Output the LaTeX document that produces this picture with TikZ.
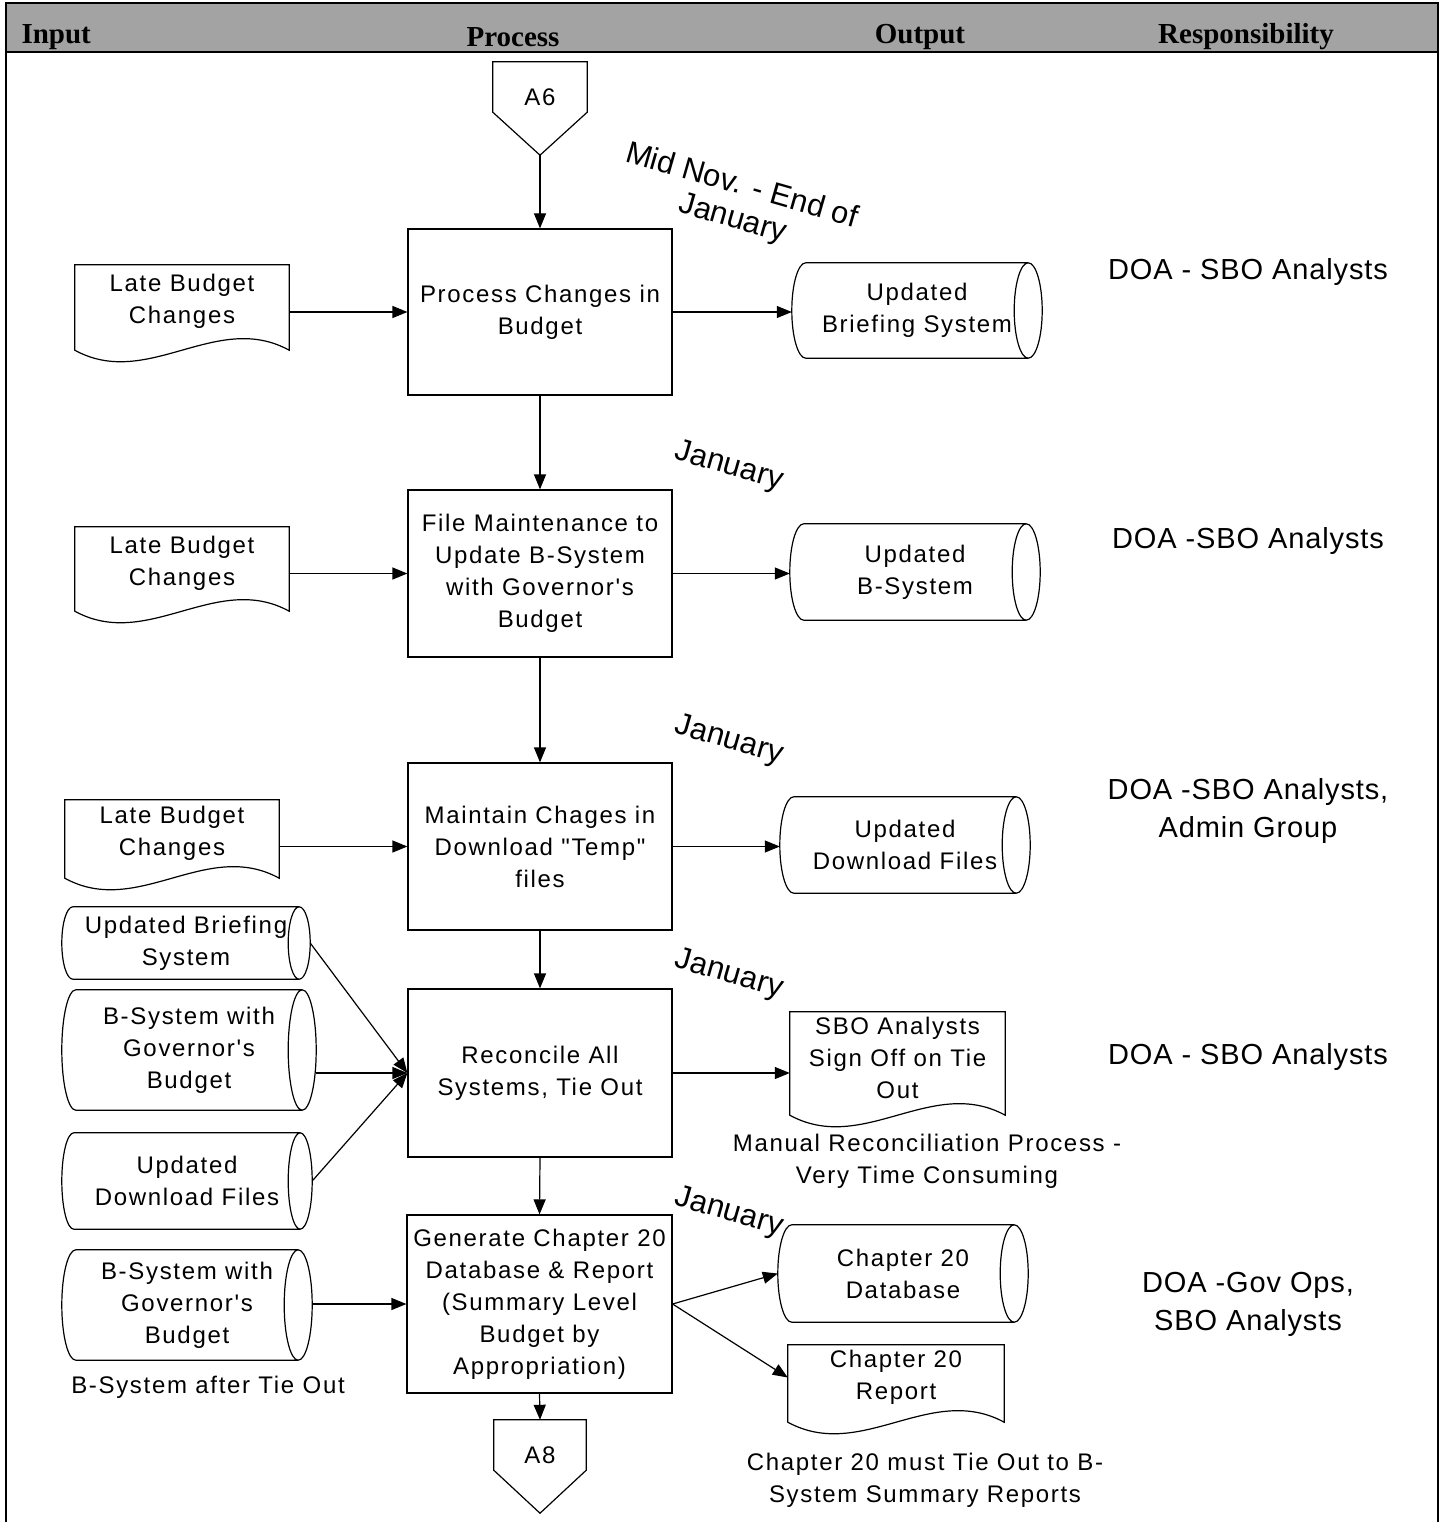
\documentclass[tikz,border=0pt]{standalone}
\usepackage{fontspec}
\setmainfont{Liberation Sans}
\newfontfamily\boxfont{Liberation Sans}[LetterSpace=7]
\newfontfamily\respfont{Liberation Sans}[LetterSpace=3]
\newfontfamily\datefont{Liberation Sans}
\newfontfamily\headfont{Liberation Serif}
\usetikzlibrary{arrows.meta,calc}

\tikzset{
  shapeline/.style={draw=black, line width=1.2pt},
  framerule/.style={draw=black, line width=2.6pt},
  boxtext/.style={align=center, inner sep=0pt, font=\boxfont\fontsize{24}{32}\selectfont},
  procbox/.style={boxtext, shapeline, minimum width=264pt, minimum height=#1},
  holder/.style n args={2}{boxtext, minimum width=#1, minimum height=#2},
  flow/.style={draw=black, line width=1.2pt, -{Triangle[length=15pt,width=12pt]}},
  resptext/.style={align=center, font=\respfont\fontsize{29}{38}\selectfont},
  datetext/.style={align=center, rotate=-16, font=\datefont\fontsize{31}{34}\selectfont},
  notetext/.style={align=center, font=\boxfont\fontsize{24}{32}\selectfont},
  headtext/.style={font=\headfont\bfseries\fontsize{29}{32}\selectfont},
}

% stored-data cylinder drawn round a node: #1 node, #2 end-cap radius (pt)
\newcommand\cylshape[2]{%
  \draw[shapeline] let \p1=(#1.north west), \p2=(#1.south east), \n1={(\y1-\y2)/2} in
    (\x1+#2pt,\y1) -- (\x2-#2pt,\y1)
    arc[start angle=90, end angle=-90, x radius=#2pt, y radius={\n1*1pt}]
    -- (\x1+#2pt,\y2)
    arc[start angle=270, end angle=90, x radius=#2pt, y radius={\n1*1pt}] -- cycle
    (\x2-#2pt,\y1) arc[start angle=90, end angle=270, x radius=#2pt, y radius={\n1*1pt}];}

% document shape with a wavy lower edge drawn round a node
\newcommand\docshape[1]{%
  \draw[shapeline] let \p1=(#1.north west), \p2=(#1.south east), \n1={\x2-\x1} in
    (\x1,\y2-12pt) -- (\x1,\y1) -- (\x2,\y1) -- (\x2,\y2-12pt)
    .. controls (\x1+0.66*\n1,\y2+28pt) and (\x1+0.34*\n1,\y2-52pt) .. (\x1,\y2-12pt) -- cycle;}

% off-page reference pointing down
\newcommand\offpage[1]{%
  \draw[shapeline] let \p1=(#1.north west), \p2=(#1.south east) in
    (\x1,\y1) -- (\x2,\y1) -- (\x2,{\y1-0.54*(\y1-\y2)})
    -- ({(\x1+\x2)/2},\y2) -- (\x1,{\y1-0.54*(\y1-\y2)}) -- cycle;}

\begin{document}
\begin{tikzpicture}[x=1pt, y=-1pt]
\useasboundingbox (0,0) rectangle (1443,1522);

% header band and frame
\fill[black!36] (6,3) rectangle (1438,52);
\draw[framerule] (6,1522) -- (6,3) -- (1438,3) -- (1438,1522);
\draw[framerule] (6,52) -- (1438,52);
\node[headtext, anchor=west] (hin) at (18,37) {Input};
\node[headtext] (hproc) at (513,37) {Process};
\node[headtext] (hout) at (920,37) {Output};
\node[headtext] (hresp) at (1246,37) {Responsibility};

% off-page references
\node[holder={94pt}{93pt}] (a6) at (540,108.5) {};
\offpage{a6}
\node[boxtext] (a6t) at (540,97) {A6};
\node[holder={92pt}{93pt}] (a8) at (540,1466.5) {};
\offpage{a8}
\node[boxtext] (a8t) at (540,1455) {A8};

% process steps
\node[procbox=166pt] (b1) at (540,312) {Process Changes in\\Budget};
\node[procbox=167pt] (b2) at (540,573.5) {File Maintenance to\\Update B-System\\with Governor's\\Budget};
\node[procbox=167pt] (b3) at (540,846.5) {Maintain Chages in\\Download "Temp"\\files};
\node[procbox=168pt] (b4) at (540,1073) {Reconcile All\\Systems, Tie Out};
\node[procbox=178pt, minimum width=265pt] (b5) at (539.5,1304) {Generate Chapter 20\\Database \& Report\\(Summary Level\\Budget by\\Appropriation)};

% input documents
\node[holder={214pt}{73pt}] (d1) at (182,301.5) {Late Budget\\Changes};
\docshape{d1}
\node[holder={214pt}{72pt}] (d2) at (182,563) {Late Budget\\Changes};
\docshape{d2}
\node[holder={214pt}{66pt}] (d3) at (172,833) {Late Budget\\Changes};
\docshape{d3}

% input data stores
\node[holder={248pt}{72pt}] (c4a) at (186,943) {Updated Briefing\\System};
\cylshape{c4a}{11}
\node[holder={254pt}{120pt}] (c4b) at (189,1050) {B-System with\\Governor's\\Budget};
\cylshape{c4b}{14}
\node[holder={250pt}{96pt}] (c4c) at (187,1181) {Updated\\Download Files};
\cylshape{c4c}{12}
\node[holder={250pt}{110pt}] (c5) at (187,1305) {B-System with\\Governor's\\Budget};
\cylshape{c5}{14}
\node[notetext] (n5b) at (208,1387) {B-System after Tie Out};

% outputs
\node[holder={250pt}{95pt}] (o1) at (917,310.5) {Updated\\Briefing System};
\cylshape{o1}{14}
\node[holder={250pt}{96pt}] (o2) at (915,572) {Updated\\B-System};
\cylshape{o2}{14}
\node[holder={250pt}{96pt}] (o3) at (905,845) {Updated\\Download Files};
\cylshape{o3}{14}
\node[holder={215pt}{91pt}] (o4) at (897.5,1057.5) {SBO Analysts\\Sign Off on Tie\\Out};
\docshape{o4}
\node[notetext] (n4) at (927,1161) {Manual Reconciliation Process -\\Very Time Consuming};
\node[holder={250pt}{97pt}] (o5a) at (903,1273.5) {Chapter 20\\Database};
\cylshape{o5a}{14}
\node[holder={216pt}{65pt}] (o5b) at (896,1377.5) {Chapter 20\\Report};
\docshape{o5b}
\node[notetext] (n5) at (925,1480) {Chapter 20 must Tie Out to B-\\System Summary Reports};

% timing
\node[datetext] (t1) at (737,203) {Mid Nov. - End of\\January};
\node[datetext] (t2) at (729,467) {January};
\node[datetext] (t3) at (729,741) {January};
\node[datetext] (t4) at (729,975) {January};
\node[datetext] (t5) at (729,1213) {January};

% responsibility
\node[resptext] (r1) at (1248,272) {DOA - SBO Analysts};
\node[resptext] (r2) at (1248,541) {DOA -SBO Analysts};
\node[resptext] (r3) at (1248,811) {DOA -SBO Analysts,\\Admin Group};
\node[resptext] (r4) at (1248,1057) {DOA - SBO Analysts};
\node[resptext] (r5) at (1248,1304) {DOA -Gov Ops,\\SBO Analysts};

% main flow
\draw[flow] (a6.south) -- (b1.north);
\draw[flow] (b1.south) -- (b2.north);
\draw[flow] (b2.south) -- (b3.north);
\draw[flow] (b3.south) -- (b4.north);
\draw[flow] (b4.south) -- (b5.north);
\draw[flow] (b5.south) -- (a8.north);

% inputs
\draw[flow] (d1.east |- b1.west) -- (b1.west);
\draw[flow] (d2.east |- b2.west) -- (b2.west);
\draw[flow] (d3.east |- b3.west) -- (b3.west);
\draw[flow] (c4a.east) -- (b4.west);
\draw[flow] (c4b.east |- b4.west) -- (b4.west);
\draw[flow] (c4c.east) -- (b4.west);
\draw[flow] (c5.east |- b5.west) -- (b5.west);

% outputs
\draw[flow] (b1.east) -- (b1.east -| o1.west);
\draw[flow] (b2.east) -- (b2.east -| o2.west);
\draw[flow] (b3.east) -- (b3.east -| o3.west);
\draw[flow] (b4.east) -- (b4.east -| o4.west);
\draw[flow] (b5.east) -- (o5a.west);
\draw[flow] (b5.east) -- (o5b.west);
\end{tikzpicture}
\end{document}
